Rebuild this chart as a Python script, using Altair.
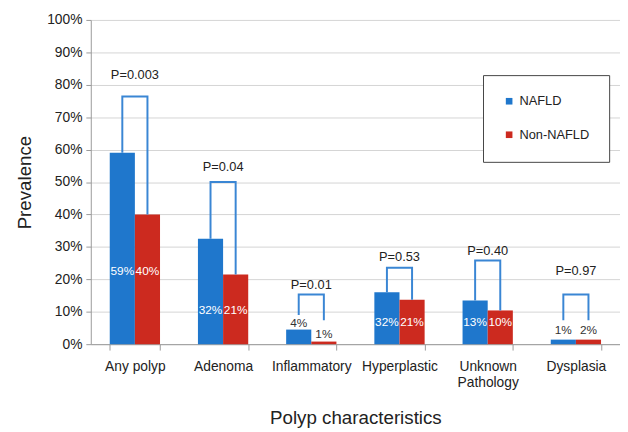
import altair as alt
import pandas as pd

groups = ["Any polyp", "Adenoma", "Inflammatory", "Hyperplastic", "Unknown Pathology", "Dysplasia"]
series = ["NAFLD", "Non-NAFLD"]
nafld = [59, 32.5, 4.5, 16, 13.5, 1.4]
non_nafld = [40, 21.5, 0.8, 13.7, 10.4, 1.4]
nafld_labels = ["59%", "32%", "4%", "32%", "13%", "1%"]
non_labels = ["40%", "21%", "1%", "21%", "10%", "2%"]
nafld_label_y = [22.7, 10.4, 6.5, 6.7, 6.7, 4.3]
non_label_y = [22.7, 10.4, 3.0, 6.7, 6.7, 4.3]
label_inside = [True, True, False, True, True, False]
p_values = ["P=0.003", "P=0.04", "P=0.01", "P=0.53", "P=0.40", "P=0.97"]
p_text_y = [83, 54.6, 18.2, 26.8, 28.6, 22.7]
bracket_top = [76.4, 50, 15.3, 23.6, 25.8, 15.3]
leg_nafld = [59, 32.5, 9, 16, 13.5, 7.4]
leg_non = [40, 21.5, 7.4, 13.7, 10.4, 7.4]
y_ticks = list(range(0, 101, 10))

BLUE = "#1f77cc"
RED = "#cc2a1f"
FONT = "Liberation Sans"

bars = pd.DataFrame(
    [{"group": g, "series": "NAFLD", "y": v} for g, v in zip(groups, nafld)]
    + [{"group": g, "series": "Non-NAFLD", "y": v} for g, v in zip(groups, non_nafld)]
)
labels = pd.DataFrame(
    [{"group": g, "series": "NAFLD", "y": y, "text": t, "inside": i}
     for g, t, y, i in zip(groups, nafld_labels, nafld_label_y, label_inside)]
    + [{"group": g, "series": "Non-NAFLD", "y": y, "text": t, "inside": i}
       for g, t, y, i in zip(groups, non_labels, non_label_y, label_inside)]
)
brackets = []
for g, top, ln, lr in zip(groups, bracket_top, leg_nafld, leg_non):
    brackets += [
        {"group": g, "series": "NAFLD", "y": ln, "ord": 0},
        {"group": g, "series": "NAFLD", "y": top, "ord": 1},
        {"group": g, "series": "Non-NAFLD", "y": top, "ord": 2},
        {"group": g, "series": "Non-NAFLD", "y": lr, "ord": 3},
    ]
brackets = pd.DataFrame(brackets)
ptext = pd.DataFrame({"group": groups, "text": p_values, "y": p_text_y})

x_enc = alt.X(
    "group:N", sort=groups, title="Polyp characteristics",
    scale=alt.Scale(paddingInner=0.43, paddingOuter=0.215),
    axis=alt.Axis(
        labelAngle=0, labelFontSize=14, labelColor="#222", labelFont=FONT,
        titleFontSize=19, titleFont=FONT, titleFontWeight="normal", titleColor="#222",
        titlePadding=20, labelPadding=10, tickBand="extent", tickSize=6,
        tickColor="#999", domainColor="#999",
        labelExpr="datum.label == 'Unknown Pathology' ? ['Unknown', 'Pathology'] : datum.label",
    ),
)
xo = alt.XOffset("series:N", sort=series, scale=alt.Scale(paddingInner=0, paddingOuter=0))
y_enc = alt.Y(
    "y:Q", scale=alt.Scale(domain=[0, 100], nice=False), title="Prevalence",
    axis=alt.Axis(
        values=y_ticks, labelOverlap=False,
        labelExpr="datum.value + '%'",
        labelFontSize=14, labelColor="#222", labelFont=FONT,
        titleFontSize=19, titleFont=FONT, titleFontWeight="normal", titleColor="#222",
        titlePadding=12, tickSize=5, tickColor="#999", domainColor="#999",
        gridColor="#d4d4d4", labelPadding=4,
    ),
)

bar = alt.Chart(bars).mark_bar().encode(
    x=x_enc,
    xOffset=xo,
    y=y_enc,
    color=alt.Color(
        "series:N", sort=series, title=None,
        scale=alt.Scale(domain=series, range=[BLUE, RED]),
        legend=alt.Legend(
            orient="none", legendX=398, legendY=56, padding=20, rowPadding=20,
            strokeColor="#444", symbolType="square", symbolSize=45,
            symbolStrokeWidth=0, labelFontSize=13, labelFont=FONT,
            labelColor="#222", labelOffset=4, fillColor="white",
        ),
    ),
)

bracket = alt.Chart(brackets).mark_line(color="#3a86d4", strokeWidth=2).encode(
    x=x_enc,
    xOffset=xo,
    y=y_enc,
    detail="group:N",
    order="ord:Q",
)

ptxt = alt.Chart(ptext).mark_text(fontSize=13, font=FONT, color="#222", baseline="middle").encode(
    x=x_enc,
    y=y_enc,
    text="text:N",
)

btxt = alt.Chart(labels).mark_text(fontSize=12, font=FONT, baseline="middle").encode(
    x=x_enc,
    xOffset=xo,
    y=y_enc,
    text="text:N",
    color=alt.condition("datum.inside", alt.value("white"), alt.value("#333")),
)

chart = alt.layer(bar, bracket, ptxt, btxt).properties(
    width=537, height=329,
    padding={"left": 8, "top": 2, "right": 0, "bottom": 0},
).configure_view(stroke=None)

chart.save("out.html", embed_options={"renderer": "svg", "actions": False})
